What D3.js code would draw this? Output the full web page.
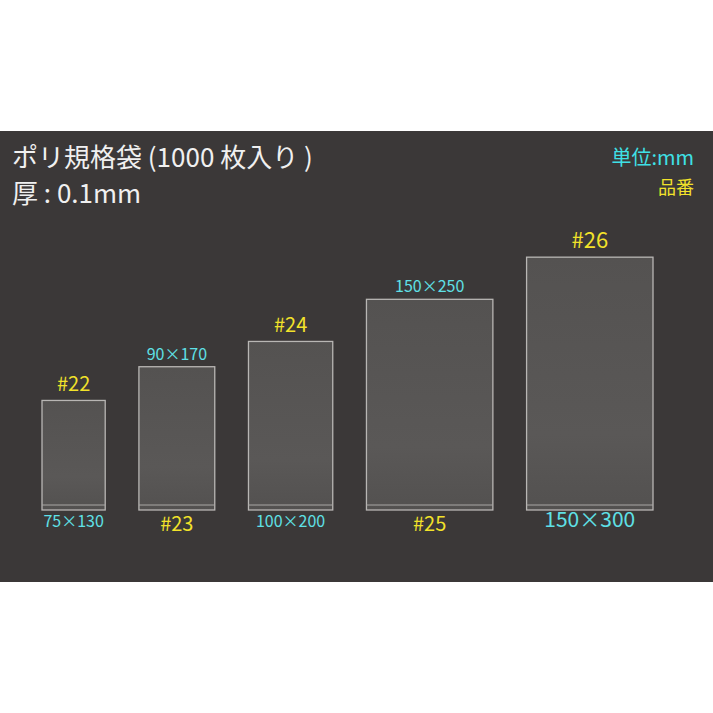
<!DOCTYPE html>
<html><head><meta charset="utf-8">
<script src="https://cdn.jsdelivr.net/npm/d3@7"></script>
<style>body{margin:0;background:#fff}</style>
</head><body>
<svg id="chart"></svg>
<script>
var codes = ['#22','#23','#24','#25','#26'];
var widths = [75,90,100,150,150];
var heights = [130,170,200,250,300];
var sizeLabels = ['75×130','90×170','100×200','150×250','150×300'];

var draw = function(){
    var svg = d3.select('svg#chart').attr('width',713).attr('height',713);
    var font = "'Noto Sans CJK JP','Noto Sans',sans-serif";

    svg.append('rect').attr('x',0).attr('y',131).attr('width',713).attr('height',451).attr('fill','#3b3838');

    var grad = svg.append('defs').append('linearGradient').attr('id','bag').attr('x1',0).attr('x2',0).attr('y1',0).attr('y2',1);
    grad.append('stop').attr('offset','0%').attr('stop-color','#545251');
    grad.append('stop').attr('offset','70%').attr('stop-color','#5a5857');
    grad.append('stop').attr('offset','100%').attr('stop-color','#535150');

    // mm -> px
    var gap = 40;
    var total = d3.sum(widths) + gap*(widths.length-1);
    var sx = d3.scaleLinear().domain([0,total]).range([42,653]);
    var k = sx(1)-sx(0);
    var baseY = 510;
    var lefts = [];
    var acc = 0;
    widths.forEach(function(w){ lefts.push(acc); acc += w + gap; });

    var g = svg.append('g');
    var bags = g.selectAll('g.bag').data(codes).enter().append('g');
    bags.append('rect')
      .attr('x',function(d,i){return sx(lefts[i]);})
      .attr('y',function(d,i){return baseY - heights[i]*k;})
      .attr('width',function(d,i){return widths[i]*k;})
      .attr('height',function(d,i){return heights[i]*k;})
      .attr('fill','url(#bag)').attr('stroke','#b8b6b4').attr('stroke-width',1.3);
    bags.append('line')
      .attr('x1',function(d,i){return sx(lefts[i]);})
      .attr('x2',function(d,i){return sx(lefts[i]+widths[i]);})
      .attr('y1',baseY-5).attr('y2',baseY-5)
      .attr('stroke','#a9a7a5').attr('stroke-width',1);

    bags.each(function(d,i){
        var cx = sx(lefts[i]+widths[i]/2);
        var top = baseY - heights[i]*k;
        var big = i===4;
        var codeAbove = i%2===0;
        var sel = d3.select(this);
        sel.append('text').attr('x',cx).attr('y',codeAbove ? top-9 : baseY+21)
          .attr('text-anchor','middle').attr('fill','#f2e22a').attr('font-family',font)
          .attr('font-size',big?22:20).text(d);
        sel.append('text').attr('x',cx).attr('y',codeAbove ? baseY+17 : top-7)
          .attr('text-anchor','middle').attr('fill','#5fe0e6').attr('font-family',font)
          .attr('font-size',big?21:16).text(sizeLabels[i]);
    });

    svg.append('text').attr('x',12).attr('y',167).attr('fill','#f0f0f0').attr('font-family',font).attr('font-size',26).text('ポリ規格袋 (1000 枚入り )');
    svg.append('text').attr('x',12).attr('y',203).attr('fill','#f0f0f0').attr('font-family',font).attr('font-size',26).text('厚 : 0.1mm');
    svg.append('text').attr('x',694).attr('y',165).attr('text-anchor','end').attr('fill','#3fe0e6').attr('font-family',font).attr('font-size',20).text('単位:mm');
    svg.append('text').attr('x',694).attr('y',194).attr('text-anchor','end').attr('fill','#f2e22a').attr('font-family',font).attr('font-size',18).text('品番');
}

draw();
</script>
</body></html>
